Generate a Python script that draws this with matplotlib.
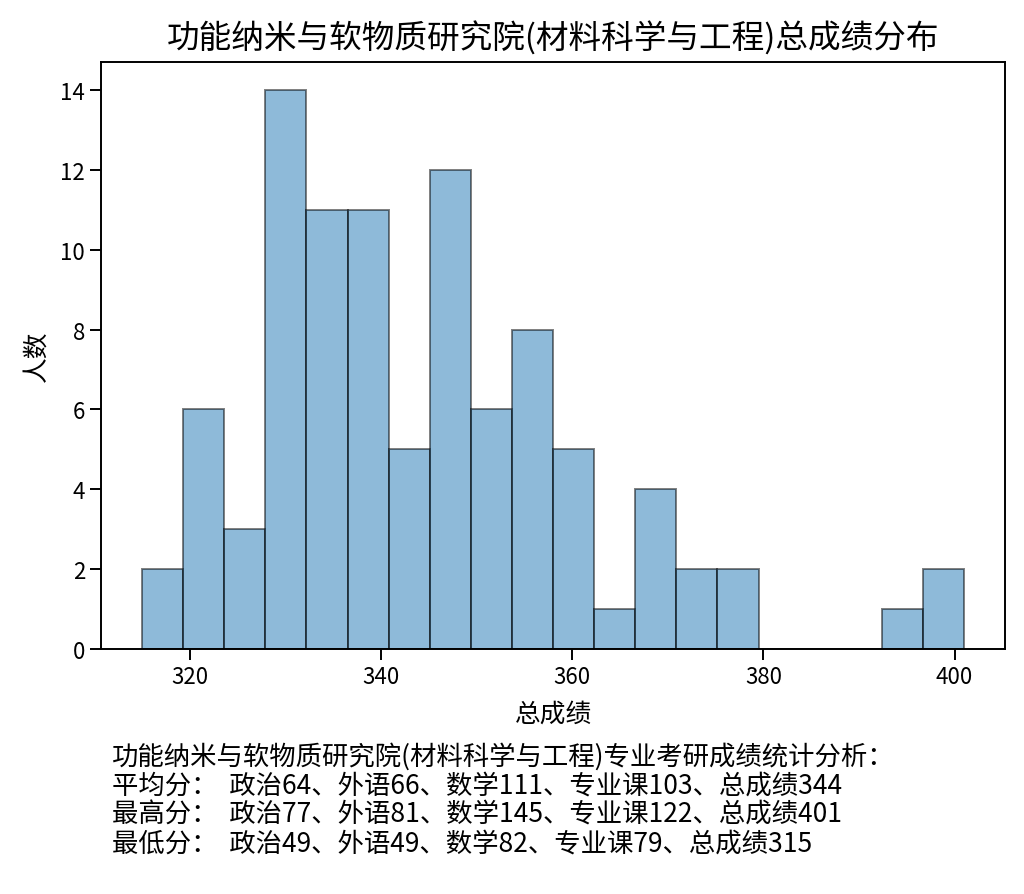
import matplotlib.pyplot as plt
import numpy as np

plt.rcParams['font.family'] = ['Noto Sans CJK SC', 'DejaVu Sans']
plt.rcParams['axes.unicode_minus'] = False

# 总成绩分布 (20 bins between min and max score)
score_min = 315
score_max = 401
counts = [2, 6, 3, 14, 11, 11, 5, 12, 6, 8, 5, 1, 4, 2, 2, 0, 0, 0, 1, 2]

title = '功能纳米与软物质研究院(材料科学与工程)总成绩分布'
summary_lines = [
    '功能纳米与软物质研究院(材料科学与工程)专业考研成绩统计分析：',
    '平均分：  政治64、外语66、数学111、专业课103、总成绩344',
    '最高分：  政治77、外语81、数学145、专业课122、总成绩401',
    '最低分：  政治49、外语49、数学82、专业课79、总成绩315',
]

edges = np.linspace(score_min, score_max, len(counts) + 1)

fig = plt.figure(figsize=(10.24, 8.95), dpi=100)
ax = fig.add_axes([0.0986, 0.2737, 0.883, 0.656])

ax.bar(edges[:-1], counts, width=np.diff(edges), align='edge',
       color='tab:blue', alpha=0.5, edgecolor='black', linewidth=1.4)

ax.set_title(title, fontsize=23.5, pad=10)
ax.set_xlabel('总成绩', fontsize=18.5, labelpad=9)
ax.set_ylabel('人数', fontsize=18.5, labelpad=8)
ax.tick_params(labelsize=16, length=8, width=1.4)
for s in ax.spines.values():
    s.set_linewidth(1.4)

y0 = 0.154
for i, line in enumerate(summary_lines):
    fig.text(0.109, y0 - i * 0.0324, line, fontsize=19, ha='left', va='center')

fig.savefig('out.png', dpi=100)
